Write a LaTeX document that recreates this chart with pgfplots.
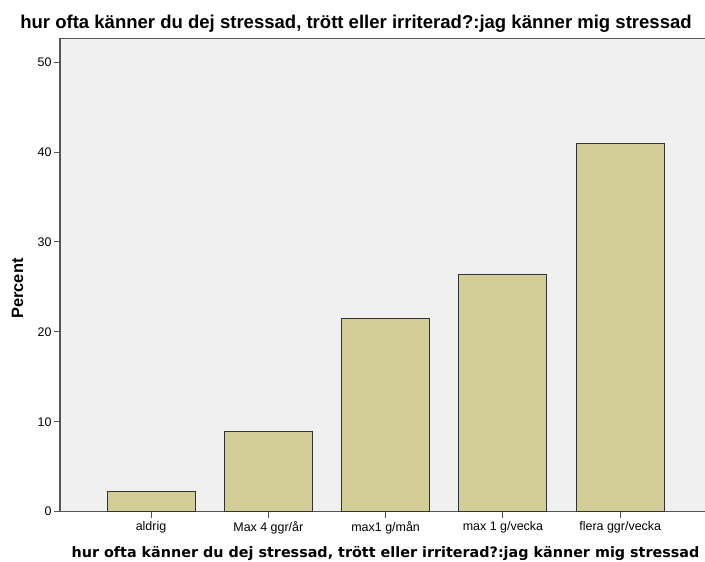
\documentclass[border=0pt]{standalone}
\usepackage{fontspec}
\setmainfont{Liberation Sans}
\newfontfamily\dejavu{DejaVu Sans}
\usepackage{pgfplots}
\pgfplotsset{compat=1.18}
\definecolor{barfill}{RGB}{211,206,151}
\definecolor{plotbg}{RGB}{240,240,240}
\definecolor{axisgray}{RGB}{85,85,85}
\begin{document}
\begin{tikzpicture}[x=1bp,y=1bp]
\useasboundingbox (0,0) rectangle (705,562);
\begin{axis}[
  at={(60bp,50.3bp)}, anchor=south west,
  x=117.3bp, y=8.99bp,
  xmin=-0.776, xmax=4.774, ymin=0, ymax=52.6,
  axis background/.style={fill=plotbg},
  axis line style={axisgray, line width=1.2pt},
  ybar, bar width=88bp,
  xtick={0,...,4},
  xticklabels={aldrig, Max 4 ggr/år, max1 g/mån, max 1 g/vecka, flera ggr/vecka},
  ytick={0,10,...,50},
  tick align=outside, tick pos=left,
  major tick length=6bp,
  tick style={axisgray, line width=1pt},
  xticklabel style={font=\fontsize{12.5}{14}\selectfont},
  yticklabel style={font=\fontsize{12.5}{14}\selectfont, xshift=1bp},
  /pgf/number format/assume math mode=true,
]
\addplot[fill=barfill, draw=black!80, line width=1pt] coordinates {
  (0,2.22) (1,8.9) (2,21.47) (3,26.4) (4,40.98)
};
\end{axis}
\node[font=\bfseries\fontsize{18.6}{21}\selectfont, anchor=base] at (356,533) {hur ofta känner du dej stressad, trött eller irriterad?:jag känner mig stressad};
\node[font=\dejavu\bfseries\fontsize{14.4}{16}\selectfont, anchor=base] at (385.5,4) {hur ofta känner du dej stressad, trött eller irriterad?:jag känner mig stressad};
\node[font=\bfseries\fontsize{16.5}{18}\selectfont, rotate=90] at (17.5,273.5) {Percent};
\end{tikzpicture}
\end{document}
